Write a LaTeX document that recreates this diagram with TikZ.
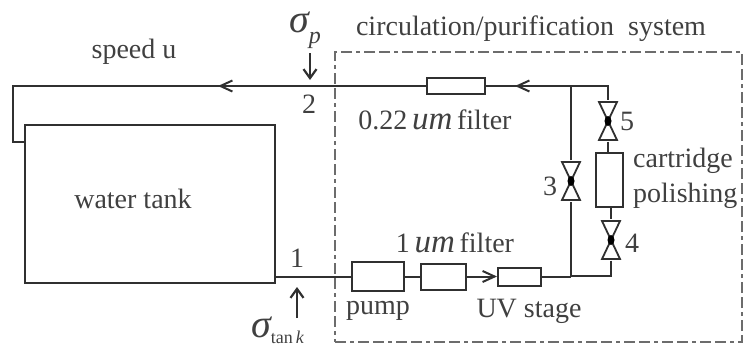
\documentclass[tikz,border=0pt]{standalone}
\usepackage{fontspec}
\setmainfont{Liberation Serif}
\usetikzlibrary{arrows.meta,calc}
\definecolor{ink}{HTML}{303030}
\definecolor{txt}{HTML}{404040}
\newcommand{\fsz}[1]{\fontsize{#1}{#1}\selectfont}
\tikzset{
  pipe/.style={draw=ink,line width=2pt},
  box/.style={draw=ink,line width=2pt,fill=white,inner sep=0pt,minimum width=#1},
  valve/.style={inner sep=0pt,minimum width=23pt,minimum height=41pt,
    path picture={
      \draw[ink,line width=1.8pt,fill=white,line join=miter]
        ($(path picture bounding box.center)+(-9,-19)$) -- ($(path picture bounding box.center)+(9,-19)$)
        -- ($(path picture bounding box.center)+(-9,19)$) -- ($(path picture bounding box.center)+(9,19)$) -- cycle;
      \fill[black] (path picture bounding box.center) ellipse (3.5pt and 5pt);
    }},
  lab/.style={text=txt,inner sep=0pt,font=\fsz{28}},
  flow/.style={-{Straight Barb[length=12pt,width=11pt,line width=2pt]}},
  sense/.style={draw=ink,line width=2.2pt,-{Straight Barb[length=9pt,width=13pt,line width=2.2pt]}},
  sysbox/.style={draw=gray!85!black,line width=1.8pt,dash pattern=on 11pt off 4pt on 4pt off 4pt on 11pt off 4pt}
}
\begin{document}
\begin{tikzpicture}[x=1pt,y=-1pt]
\useasboundingbox (0,0) rectangle (747,351);
\node[sysbox,inner sep=0pt,minimum width=407pt,minimum height=290pt] (sys) at (538.5,197) {};
% water tank
\node[box=250pt,minimum height=158pt] (tank) at (150,204) {};
\coordinate (tankOut) at (275,276.5);
\coordinate (tankIn) at (25,142);
\coordinate (c1) at (13,142);
\coordinate (c2) at (13,86);
\coordinate (j5) at (571,86);
\coordinate (c5) at (608,86);
\coordinate (j3) at (571,275.5);
\coordinate (c4) at (611,275.5);
% components
\node[box=52pt,minimum height=29pt] (pump) at (378,276.5) {};
\node[box=45pt,minimum height=26pt] (f1) at (443.5,276.5) {};
\node[box=43pt,minimum height=18pt] (uv) at (519.5,276.5) {};
\node[box=58pt,minimum height=16pt] (f22) at (456,86) {};
\node[box=27pt,minimum height=54pt] (cart) at (609.5,180) {};
\node[valve] (v3) at (571,181) {};
\node[valve] (v5) at (608,121) {};
\node[valve] (v4) at (611,240) {};
% pipes
\draw[pipe] (tankIn) -- (c1) -- (c2) -- (f22.west);
\draw[pipe,flow] (f22.west) -- (218,86);
\draw[pipe] (f22.east) -- (j5) -- (c5) -- (v5.north);
\draw[pipe,flow] (j5) -- (515,86);
\draw[pipe] (v5.south) -- (cart.north -| v5.south);
\draw[pipe] (cart.south -| v4.north) -- (v4.north);
\draw[pipe] (v4.south) -- (c4) -- (j3) -- (v3.south);
\draw[pipe] (v3.north) -- (j5);
\draw[pipe] (uv.east) -- (uv.east -| j3);
\draw[pipe] (tankOut) -- (pump.west);
\draw[pipe] (pump.east) -- (f1.west);
\draw[pipe,flow] (f1.east) -- (uv.west);
% sensors
\coordinate (s2a) at (310,53);
\coordinate (s2b) at (310,80);
\coordinate (s1a) at (297,318);
\coordinate (s1b) at (297,287);
\draw[sense] (s2a) -- (s2b);
\draw[sense] (s1a) -- (s1b);
% labels
\node[lab] (tspeed) at (134,52) {speed u};
\node[lab] (ttank) at (133,199) {water tank};
\node[lab] (tsys) at (531,29) {circulation/purification\ \ system};
\node[lab] (t2) at (309,104) {2};
\node[lab] (t1) at (297,258) {1};
\node[lab] (t5) at (627,121) {5};
\node[lab] (t3) at (550,186) {3};
\node[lab] (t4) at (632,243) {4};
\node[lab] (tf22) at (435,120) {0.22\,{\fsz{33}\itshape um}\,filter};
\node[lab] (tf1) at (455,243) {1\,{\fsz{33}\itshape um}\,filter};
\node[lab] (tpump) at (378,311) {pump};
\node[lab] (tuv) at (529,311) {UV stage};
\node[lab,anchor=west] (tcart) at (633,161) {cartridge};
\node[lab,anchor=west] (tpol) at (633,196) {polishing};
\node[lab,anchor=west] (sp) at (289,30) {{\fsz{40}\itshape σ}\raisebox{-11pt}{\fsz{24}\itshape p}};
\node[lab,anchor=west] (st) at (251,330) {{\fsz{40}\itshape σ}\raisebox{-6pt}{\fsz{18}tan\,\itshape k}};
\end{tikzpicture}
\end{document}
